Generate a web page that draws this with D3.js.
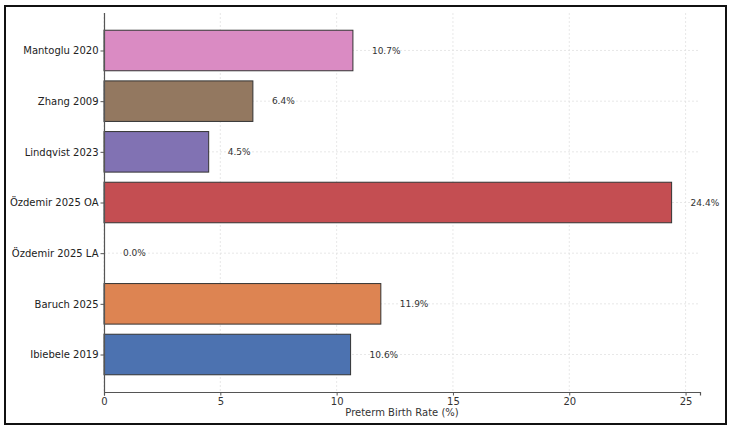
<!DOCTYPE html>
<html>
<head>
<meta charset="utf-8">
<script src="https://cdn.jsdelivr.net/npm/d3@7"></script>
<style>
  body { margin: 0; background: #fff; }
  text { font-family: "DejaVu Sans", sans-serif; }
</style>
</head>
<body>
<div id="chart"></div>
<script>
// studies, bottom to top as drawn
var studies = ["Ibiebele 2019", "Baruch 2025", "Özdemir 2025 LA", "Özdemir 2025 OA", "Lindqvist 2023", "Zhang 2009", "Mantoglu 2020"];
var rates = [10.6, 11.9, 0.0, 24.4, 4.5, 6.4, 10.7];
var barColors = ["#4c72b0", "#dd8452", "#55a868", "#c44e52", "#8172b3", "#937860", "#da8bc3"];
var xTicks = [0, 5, 10, 15, 20, 25];

var W = 733, H = 432;
var margin = { top: 13, right: 33, bottom: 40, left: 104 };
var width = W - margin.left - margin.right,
    height = H - margin.top - margin.bottom;

var svg = d3.select("#chart").append("svg")
    .attr("width", W)
    .attr("height", H);

// outer frame
svg.append("rect")
    .attr("x", 5).attr("y", 6)
    .attr("width", 721).attr("height", 418)
    .attr("fill", "none")
    .attr("stroke", "#111")
    .attr("stroke-width", 2);

var g = svg.append("g")
    .attr("transform", "translate(" + margin.left + "," + margin.top + ")");

var xMax = d3.max(rates) * 1.05;
var x = d3.scaleLinear().domain([0, xMax]).range([0, width]);

// category positions like matplotlib: index -0.74 .. 6.74
var y = d3.scaleLinear().domain([-0.74, studies.length - 1 + 0.74]).range([height, 0]);
var barH = y(0) - y(0.8);

// grid
g.selectAll(".vgrid").data(xTicks).enter().append("line")
    .attr("x1", function(d) { return x(d); })
    .attr("x2", function(d) { return x(d); })
    .attr("y1", 0).attr("y2", height)
    .attr("stroke", "#e2e2e2").attr("stroke-dasharray", "2,2").attr("stroke-width", 0.8);

g.selectAll(".hgrid").data(studies).enter().append("line")
    .attr("x1", 0).attr("x2", width)
    .attr("y1", function(d, i) { return y(i); })
    .attr("y2", function(d, i) { return y(i); })
    .attr("stroke", "#e2e2e2").attr("stroke-dasharray", "2,2").attr("stroke-width", 0.8);

// bars
g.selectAll(".bar").data(rates).enter().append("rect")
    .attr("x", x(0))
    .attr("y", function(d, i) { return y(i) - barH / 2; })
    .attr("width", function(d) { return x(d) - x(0); })
    .attr("height", barH)
    .attr("fill", function(d, i) { return barColors[i]; })
    .attr("stroke", function(d) { return d > 0 ? "#333" : "none"; })
    .attr("stroke-width", 1);

// value labels
g.selectAll(".val").data(rates).enter().append("text")
    .attr("x", function(d) { return x(d) + 19; })
    .attr("y", function(d, i) { return y(i); })
    .attr("dy", "0.35em")
    .attr("font-size", "9px")
    .attr("fill", "#333")
    .text(function(d) { return d.toFixed(1) + "%"; });

// axes
var xAxis = d3.axisBottom(x).tickValues(xTicks).tickSize(3.5).tickPadding(2).tickFormat(d3.format("d"));
var xg = g.append("g")
    .attr("transform", "translate(0," + height + ")")
    .call(xAxis);
xg.select(".domain").attr("stroke", "#555").attr("stroke-width", 1.2);
xg.selectAll(".tick line").attr("stroke", "#555");
xg.selectAll("text").attr("font-size", "10px").attr("fill", "#333").attr("font-family", "DejaVu Sans");

var yAxis = d3.axisLeft(y).tickValues(d3.range(studies.length))
    .tickFormat(function(i) { return studies[i]; })
    .tickSize(3.5).tickPadding(2);
var yg = g.append("g").call(yAxis);
yg.select(".domain").attr("d", "M0.5,0V" + height).attr("stroke", "#555").attr("stroke-width", 1.2);
yg.selectAll(".tick line").attr("stroke", "#555");
yg.selectAll("text").attr("font-size", "10px").attr("fill", "#222").attr("font-family", "DejaVu Sans");

// axis title
g.append("text")
    .attr("x", width / 2)
    .attr("y", height + 24)
    .attr("text-anchor", "middle")
    .attr("font-size", "10px")
    .attr("fill", "#333")
    .text("Preterm Birth Rate (%)");
</script>
</body>
</html>
